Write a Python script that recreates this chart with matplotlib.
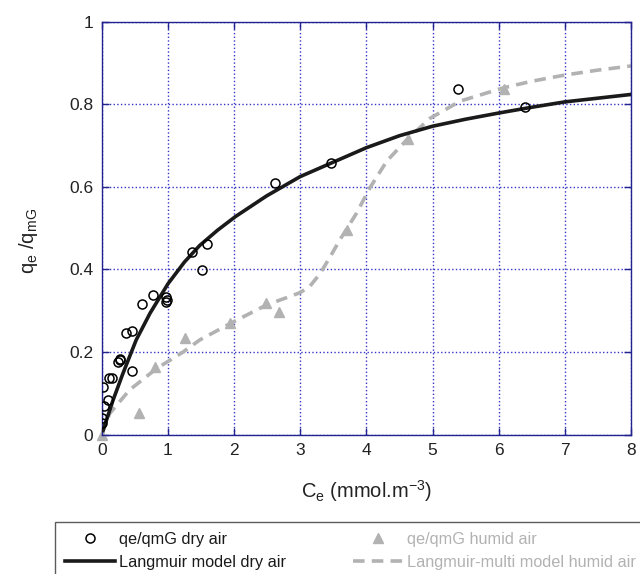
import numpy as np
import matplotlib
matplotlib.use("Agg")
import matplotlib.pyplot as plt

plt.rcParams['font.family'] = ['Liberation Sans', 'DejaVu Sans']

# measured points, dry air
ce_dry = [0.0, 0.0, 0.03, 0.10, 0.02, 0.11, 0.16, 0.25, 0.28, 0.27, 0.45, 0.37, 0.46,
          0.61, 0.77, 0.97, 0.98, 0.97, 1.37, 1.59, 1.51, 2.62, 3.46, 5.39, 6.39]
q_dry = [0.039, 0.027, 0.069, 0.083, 0.116, 0.136, 0.138, 0.176, 0.184, 0.180, 0.153, 0.245, 0.251,
         0.316, 0.338, 0.334, 0.326, 0.322, 0.443, 0.461, 0.399, 0.609, 0.658, 0.836, 0.794]

# measured points, humid air
ce_hum = [0.0, 0.56, 0.80, 1.26, 1.94, 2.49, 2.68, 3.70, 4.63, 6.08]
q_hum = [0.0, 0.052, 0.163, 0.233, 0.271, 0.318, 0.296, 0.496, 0.716, 0.836]

# model curves
ce_lang = [0.02, 0.17, 0.32, 0.52, 0.73, 1.0, 1.25, 1.48, 1.75, 2.02, 2.49, 3.0, 3.5,
           4.0, 4.5, 5.0, 5.5, 6.0, 6.5, 7.0, 7.5, 8.0]
q_lang = [0.01, 0.083, 0.148, 0.229, 0.294, 0.365, 0.418, 0.458, 0.495, 0.528, 0.578, 0.625, 0.660,
          0.695, 0.724, 0.747, 0.764, 0.779, 0.793, 0.806, 0.815, 0.824]

ce_multi = [0.0, 0.12, 0.42, 0.83, 1.23, 1.48, 1.99, 2.49, 2.8, 3.0, 3.15, 3.3, 3.45, 3.60, 3.85, 4.05,
            4.31, 4.61, 4.96, 5.42, 6.07, 6.5, 7.0, 7.5, 8.0]
q_multi = [0.0, 0.051, 0.108, 0.160, 0.200, 0.229, 0.273, 0.314, 0.332, 0.344, 0.360, 0.390, 0.430, 0.472,
           0.536, 0.597, 0.663, 0.714, 0.766, 0.808, 0.840, 0.856, 0.871, 0.883, 0.893]

spine_col = '#23238f'
grid_col = '#3535c8'
grey = '#b2b2b2'

fig = plt.figure(figsize=(6.4, 5.74), dpi=100)
ax = fig.add_axes([0.159, 0.243, 0.827, 0.719])

ax.plot(ce_dry, q_dry, 'o', mfc='none', mec='black', mew=1.1, ms=6.5,
        label='qe/qmG dry air', zorder=4)
ax.plot(ce_lang, q_lang, '-', color='#1a1a1a', lw=2.6,
        label='Langmuir model dry air', zorder=3)
ax.plot(ce_hum, q_hum, '^', color=grey, mec=grey, ms=7,
        label='qe/qmG humid air', zorder=2, clip_on=False)
ax.plot(ce_multi, q_multi, color=grey, lw=2.6, linestyle=(0, (3.2, 2.0)),
        label='Langmuir-multi model humid air', zorder=2)

ax.set_xlim(0, 8)
ax.set_ylim(0, 1)
ax.set_xticks(range(0, 9))
ax.set_yticks([0, 0.2, 0.4, 0.6, 0.8, 1])
ax.set_yticklabels(['0', '0.2', '0.4', '0.6', '0.8', '1'])

ax.grid(True, linestyle=':', color=grid_col, lw=1.0)
for s in ax.spines.values():
    s.set_color(spine_col)
    s.set_linewidth(1.0)
ax.tick_params(direction='in', length=5, width=1, color=spine_col,
               top=True, right=True, labelsize=12.5, labelcolor='#222222')
ax.tick_params(axis='x', pad=6)
ax.tick_params(axis='y', pad=6)

ax.set_xlabel(r'C$_\mathregular{e}$ (mmol.m$^\mathregular{-3}$)', fontsize=14.5, color='#222222')
ax.set_ylabel(r'q$_\mathregular{e}$ /q$_\mathregular{mG}$', fontsize=14.5, color='#222222')
ax.xaxis.set_label_coords(0.5, -0.105)
ax.yaxis.set_label_coords(-0.117, 0.47)

# legend sits below the axes and runs past the right/bottom edge like the original
leg = fig.legend(loc='upper left', bbox_to_anchor=(55 / 640, 1 - 522 / 574),
                 ncol=2, fontsize=11.7, frameon=True, fancybox=False,
                 edgecolor='#333333', borderaxespad=0, borderpad=0.6,
                 handlelength=3.1, handletextpad=0.25, columnspacing=4.1,
                 labelspacing=0.5)
leg.get_frame().set_linewidth(1.0)
texts = leg.get_texts()
texts[0].set_color('#1a1a1a')
texts[1].set_color('#1a1a1a')
texts[2].set_color(grey)
texts[3].set_color(grey)

plt.savefig('out.png', dpi=100)
